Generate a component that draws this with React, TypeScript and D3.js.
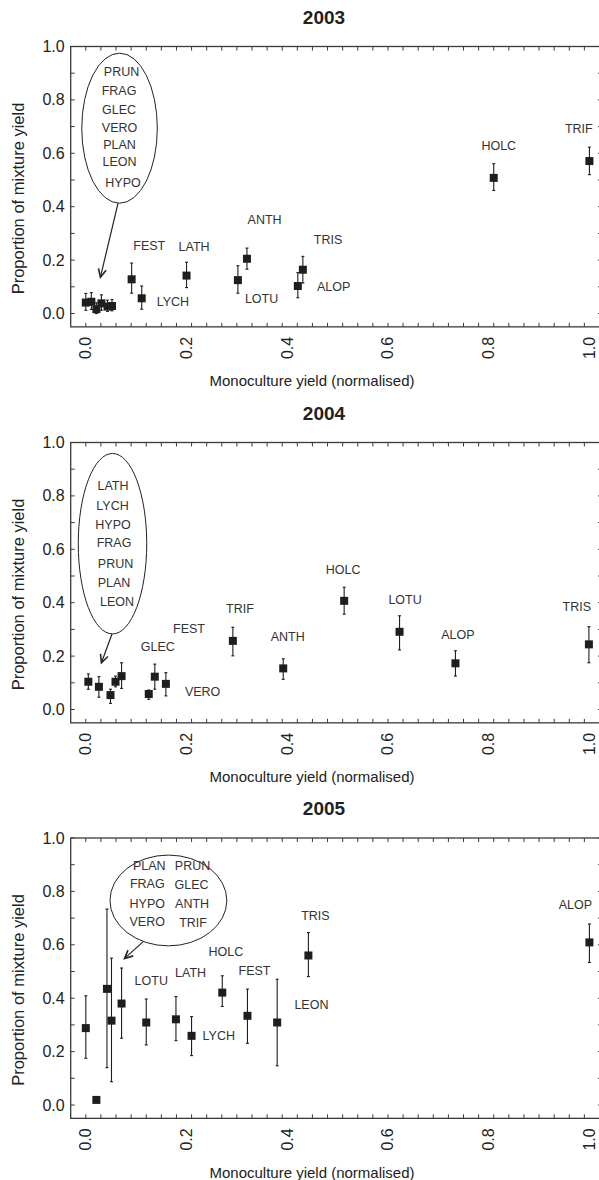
import React from "react";
import * as d3 from "d3";

// ---- data ----
const years = ["2003", "2004", "2005"];

const x2003 = [0.0, 0.011, 0.021, 0.031, 0.043, 0.052, 0.091, 0.111, 0.2, 0.302, 0.32, 0.421, 0.431, 0.81, 1.0];
const y2003 = [0.041, 0.044, 0.016, 0.038, 0.026, 0.028, 0.128, 0.057, 0.142, 0.125, 0.205, 0.103, 0.164, 0.508, 0.571];
const hi2003 = [0.075, 0.078, 0.04, 0.07, 0.05, 0.052, 0.189, 0.103, 0.192, 0.179, 0.245, 0.153, 0.214, 0.561, 0.623];
const lo2003 = [0.012, 0.015, 0.0, 0.012, 0.008, 0.01, 0.076, 0.016, 0.097, 0.076, 0.166, 0.059, 0.114, 0.461, 0.52];

const x2004 = [0.005, 0.026, 0.049, 0.059, 0.071, 0.125, 0.137, 0.159, 0.292, 0.392, 0.513, 0.623, 0.734, 0.999];
const y2004 = [0.104, 0.085, 0.054, 0.104, 0.125, 0.058, 0.123, 0.096, 0.257, 0.154, 0.407, 0.291, 0.173, 0.244];
const hi2004 = [0.133, 0.123, 0.076, 0.125, 0.175, 0.073, 0.17, 0.138, 0.308, 0.19, 0.458, 0.351, 0.22, 0.31];
const lo2004 = [0.076, 0.046, 0.023, 0.085, 0.079, 0.038, 0.076, 0.051, 0.201, 0.113, 0.357, 0.223, 0.125, 0.175];

const x2005 = [0.0, 0.021, 0.042, 0.051, 0.071, 0.12, 0.179, 0.21, 0.271, 0.321, 0.38, 0.442, 1.0];
const y2005 = [0.288, 0.019, 0.435, 0.316, 0.38, 0.309, 0.321, 0.259, 0.421, 0.334, 0.309, 0.56, 0.609];
const hi2005 = [0.409, 0.019, 0.734, 0.55, 0.513, 0.397, 0.406, 0.331, 0.484, 0.434, 0.471, 0.646, 0.678];
const lo2005 = [0.175, 0.019, 0.14, 0.087, 0.25, 0.225, 0.241, 0.185, 0.369, 0.231, 0.147, 0.481, 0.534];

// species labels (positions in data units)
const lab2003 = ["PRUN", "FRAG", "GLEC", "VERO", "PLAN", "LEON", "HYPO", "FEST", "LATH", "ANTH", "TRIS", "LYCH", "LOTU", "ALOP", "HOLC", "TRIF"];
const labX2003 = [0.071, 0.066, 0.066, 0.067, 0.067, 0.067, 0.074, 0.126, 0.215, 0.355, 0.481, 0.173, 0.349, 0.492, 0.82, 0.979];
const labY2003 = [0.903, 0.833, 0.762, 0.695, 0.631, 0.569, 0.49, 0.253, 0.25, 0.35, 0.275, 0.044, 0.053, 0.1, 0.627, 0.69];

const lab2004 = ["LATH", "LYCH", "HYPO", "FRAG", "PRUN", "PLAN", "LEON", "GLEC", "FEST", "VERO", "TRIF", "ANTH", "HOLC", "LOTU", "ALOP", "TRIS"];
const labX2004 = [0.054, 0.053, 0.054, 0.056, 0.059, 0.056, 0.062, 0.143, 0.205, 0.232, 0.306, 0.401, 0.511, 0.634, 0.739, 0.975];
const labY2004 = [0.838, 0.762, 0.691, 0.625, 0.544, 0.473, 0.401, 0.235, 0.3, 0.067, 0.375, 0.27, 0.522, 0.41, 0.279, 0.385];

const lab2005 = ["PLAN", "PRUN", "FRAG", "GLEC", "HYPO", "ANTH", "VERO", "TRIF", "LOTU", "LATH", "HOLC", "FEST", "TRIS", "LEON", "LYCH", "ALOP"];
const labX2005 = [0.126, 0.212, 0.122, 0.21, 0.122, 0.211, 0.122, 0.213, 0.13, 0.208, 0.278, 0.335, 0.456, 0.448, 0.264, 0.972];
const labY2005 = [0.895, 0.895, 0.827, 0.824, 0.753, 0.753, 0.687, 0.683, 0.464, 0.493, 0.574, 0.502, 0.708, 0.375, 0.258, 0.749];

// ellipse: cx, cy, rx, ry ; arrow: x1, y1, x2, y2 (data units)
const ellipse2003 = [0.067, 0.694, 0.075, 0.281];
const ellipse2004 = [0.053, 0.621, 0.068, 0.338];
const ellipse2005 = [0.164, 0.766, 0.116, 0.17];
const arrow2003 = [0.064, 0.413, 0.029, 0.136];
const arrow2004 = [0.052, 0.283, 0.031, 0.175];
const arrow2005 = [0.114, 0.612, 0.077, 0.549];

const xTickLabels = [0, 0.2, 0.4, 0.6, 0.8, 1.0];
const yTickLabels = [0, 0.2, 0.4, 0.6, 0.8, 1.0];

const panels = [
  { year: years[0], xs: x2003, ys: y2003, hi: hi2003, lo: lo2003, lab: lab2003, lx: labX2003, ly: labY2003, el: ellipse2003, ar: arrow2003 },
  { year: years[1], xs: x2004, ys: y2004, hi: hi2004, lo: lo2004, lab: lab2004, lx: labX2004, ly: labY2004, el: ellipse2004, ar: arrow2004 },
  { year: years[2], xs: x2005, ys: y2005, hi: hi2005, lo: lo2005, lab: lab2005, lx: labX2005, ly: labY2005, el: ellipse2005, ar: arrow2005 },
];

const W = 599;
const H = 1180;
const left = 70.7;
const right = 602;
const tops = [46.5, 442.5, 838];
const unit = 267;
const font = "'Liberation Sans', Arial, Helvetica, sans-serif";
const ink = "#1e1e1e";
const frameCol = "#3a3a3a";
const textCol = "#333";

const x = d3.scaleLinear().domain([-0.03, 1.025]).range([left, right]);
const fmt = d3.format(".1f");

function Panel({ p, top }) {
  const y = d3.scaleLinear().domain([-0.05, 1]).range([top + 1.05 * unit, top]);
  const bottom = y(-0.05);
  const minorX = d3.range(0, 34).map((i) => i * 0.03);
  const minorY = d3.range(0, 11).map((i) => i * 0.1);
  const tick = 4;

  const [ax1, ay1, ax2, ay2] = p.ar;
  const px1 = x(ax1), py1 = y(ay1), px2 = x(ax2), py2 = y(ay2);
  const ang = Math.atan2(py1 - py2, px1 - px2);
  const headLen = 9;
  const spread = 0.45;
  const head = [ang - spread, ang + spread].map((a) => [px2 + headLen * Math.cos(a), py2 + headLen * Math.sin(a)]);

  const [ecx, ecy, erx, ery] = p.el;

  return (
    <g>
      <text x={324} y={top - 23} textAnchor="middle" fontSize={19} fontWeight="bold" fill="#222" fontFamily={font}>
        {p.year}
      </text>

      {/* frame */}
      <rect x={left} y={top} width={right - left} height={bottom - top} fill="none" stroke={frameCol} strokeWidth={1.3} />

      {/* x ticks top & bottom */}
      {minorX.map((v, i) => (
        <g key={"xt" + i} stroke={frameCol} strokeWidth={1}>
          <line x1={x(v)} x2={x(v)} y1={bottom} y2={bottom - tick} />
          <line x1={x(v)} x2={x(v)} y1={top} y2={top + tick} />
        </g>
      ))}
      {/* y ticks left & right */}
      {minorY.map((v, i) => (
        <g key={"yt" + i} stroke={frameCol} strokeWidth={1}>
          <line x1={left} x2={left + tick} y1={y(v)} y2={y(v)} />
          <line x1={right} x2={right - tick} y1={y(v)} y2={y(v)} />
        </g>
      ))}

      {yTickLabels.map((v, i) => (
        <text key={"yl" + i} x={left - 6} y={y(v)} textAnchor="end" dominantBaseline="central" fontSize={16} fill="#222" fontFamily={font}>
          {fmt(v)}
        </text>
      ))}
      {xTickLabels.map((v, i) => (
        <text
          key={"xl" + i}
          transform={`translate(${x(v)},${bottom + 10}) rotate(-90)`}
          textAnchor="end"
          dominantBaseline="central"
          fontSize={16}
          fill="#222"
          fontFamily={font}
        >
          {fmt(v)}
        </text>
      ))}

      <text
        transform={`translate(18,${top + 152}) rotate(-90)`}
        textAnchor="middle"
        dominantBaseline="central"
        fontSize={16.5}
        fill="#222"
        fontFamily={font}
      >
        Proportion of mixture yield
      </text>
      <text x={312} y={bottom + 54} textAnchor="middle" dominantBaseline="central" fontSize={15} fill="#222" fontFamily={font}>
        Monoculture yield (normalised)
      </text>

      {/* ellipse + arrow */}
      <ellipse cx={x(ecx)} cy={y(ecy)} rx={x(ecx + erx) - x(ecx)} ry={y(ecy) - y(ecy + ery)} fill="none" stroke="#222" strokeWidth={1} />
      <line x1={px1} y1={py1} x2={px2} y2={py2} stroke="#222" strokeWidth={1.2} />
      <polyline
        points={`${head[0][0]},${head[0][1]} ${px2},${py2} ${head[1][0]},${head[1][1]}`}
        fill="none"
        stroke="#222"
        strokeWidth={1.6}
      />

      {/* error bars */}
      {p.xs.map((v, i) => (
        <g key={"eb" + i} stroke={ink} strokeWidth={1.1}>
          <line x1={x(v)} x2={x(v)} y1={y(p.lo[i])} y2={y(p.hi[i])} />
          <line x1={x(v) - 1.5} x2={x(v) + 1.5} y1={y(p.lo[i])} y2={y(p.lo[i])} />
          <line x1={x(v) - 1.5} x2={x(v) + 1.5} y1={y(p.hi[i])} y2={y(p.hi[i])} />
        </g>
      ))}
      {/* squares */}
      {p.xs.map((v, i) => (
        <rect key={"pt" + i} x={x(v) - 4} y={y(p.ys[i]) - 4} width={8} height={8} fill={ink} />
      ))}

      {/* species labels */}
      {p.lab.map((s, i) => (
        <text key={"lb" + i} x={x(p.lx[i])} y={y(p.ly[i])} textAnchor="middle" dominantBaseline="central" fontSize={12.5} fill={textCol} fontFamily={font}>
          {s}
        </text>
      ))}
    </g>
  );
}

export default function App() {
  return (
    <svg width={W} height={H} style={{ position: "absolute", left: 0, top: 0, background: "#fff" }}>
      <rect width={W} height={H} fill="#fff" />
      {panels.map((p, i) => (
        <Panel key={p.year} p={p} top={tops[i]} />
      ))}
    </svg>
  );
}
